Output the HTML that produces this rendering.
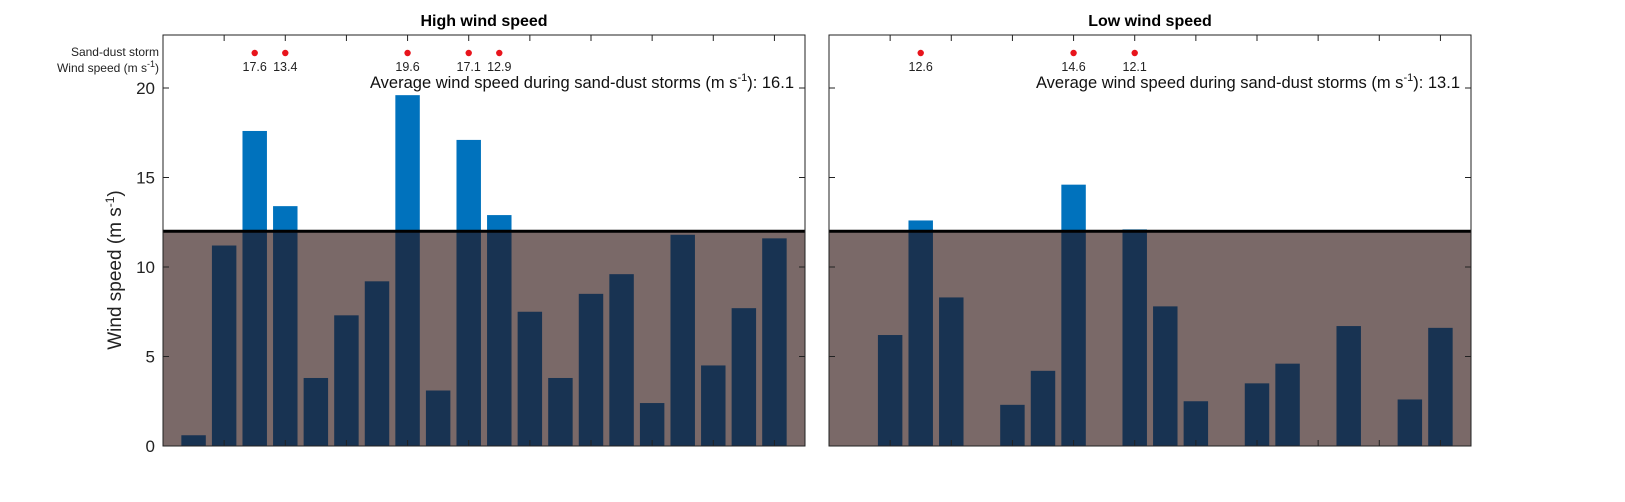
<!DOCTYPE html>
<html><head><meta charset="utf-8"><style>body{margin:0;background:#fff}svg{display:block;font-family:"Liberation Sans",Arial,sans-serif}</style></head>
<body>
<svg id="fig" width="1625" height="502" viewBox="0 0 1625 502">
<text x="121" y="270" transform="rotate(-90 121 270)" text-anchor="middle" font-size="19" fill="#222">Wind speed (m s<tspan dy="-7" font-size="12">-1</tspan><tspan dy="7">)</tspan></text>
<text x="159" y="56" text-anchor="end" font-size="12" fill="#222">Sand-dust storm</text>
<text x="159" y="72" text-anchor="end" font-size="12" fill="#222">Wind speed (m s<tspan dy="-5" font-size="9">-1</tspan><tspan dy="5">)</tspan></text>
</svg>
<script>
const highValues=[0.6,11.2,17.6,13.4,3.8,7.3,9.2,19.6,3.1,17.1,12.9,7.5,3.8,8.5,9.6,2.4,11.8,4.5,7.7,11.6];
const highStorms=[3,4,8,10,11];
const highAvg="16.1";
const lowIndex=[2,3,4,6,7,8,10,11,12,14,15,17,19,20];
const lowValues=[6.2,12.6,8.3,2.3,4.2,14.6,12.1,7.8,2.5,3.5,4.6,6.7,2.6,6.6];
const lowStorms=[3,8,10];
const lowAvg="13.1";
const yTicks=[0,5,10,15,20];
const threshold=12;

const NS="http://www.w3.org/2000/svg";
const svg=document.getElementById('fig');
function mk(tag,attrs,parent){const e=document.createElementNS(NS,tag);for(const k in attrs)e.setAttribute(k,attrs[k]);(parent||svg).appendChild(e);return e;}
const Y0=446,Y1=35,PX=17.9;
function y(v){return Y0-v*PX;}

function panel(left,title,idx,vals,storms,avg,showLabels,key){
  const right=left+642;
  const xs=v=>left+v*(642/21);
  const g=mk('g',{});
  
  
  const bg=mk('rect',{x:left,y:y(threshold),width:642,height:Y0-y(threshold),fill:'#7a6968'},g);
  
  
  const bw=0.8*642/21;
  idx.forEach((i,k)=>{
    const v=vals[k];
    if(v>threshold){
      const t=mk('rect',{x:xs(i)-bw/2,y:y(v),width:bw,height:y(threshold)-y(v),fill:'#0072BD'},g);
      
      
    }
    const lv=Math.min(v,threshold);
    const b=mk('rect',{x:xs(i)-bw/2,y:y(lv),width:bw,height:Y0-y(lv),fill:'#183352'},g);
    
    
  });
  const th=mk('line',{x1:left,x2:right,y1:y(threshold),y2:y(threshold),stroke:'#000','stroke-width':3},g);
  
  
  const ax=mk('rect',{x:left,y:Y1,width:642,height:Y0-Y1,fill:'none',stroke:'#222','stroke-width':1},g);
  
  
  yTicks.forEach(t=>{
    const l=mk('line',{x1:left,x2:left+6,y1:y(t),y2:y(t),stroke:'#222'},g);
    
    
    const r=mk('line',{x1:right,x2:right-6,y1:y(t),y2:y(t),stroke:'#222'},g);
    
    
    if(showLabels){
      const tx=mk('text',{x:left-8,y:y(t)+6,'text-anchor':'end','font-size':17,fill:'#222'},g);
      tx.textContent=t;
      
      
    }
  });
  for(let i=2;i<=20;i+=2){
    const l=mk('line',{x1:xs(i),x2:xs(i),y1:Y1,y2:Y1+6,stroke:'#222'},g);
    
    
    const l2=mk('line',{x1:xs(i),x2:xs(i),y1:Y0,y2:Y0-6,stroke:'#222'},g);
    
    
  }
  storms.forEach(i=>{
    const v=vals[idx.indexOf(i)];
    const d=mk('circle',{cx:xs(i),cy:53,r:3.2,fill:'#e8141c'},g);
    
    
    const t=mk('text',{x:xs(i),y:71,'text-anchor':'middle','font-size':12.5,fill:'#222'},g);
    t.textContent=v.toFixed(1);
    
    
  });
  const a=mk('text',{x:right-11,y:88,'text-anchor':'end','font-size':16.5,fill:'#111'},g);
  a.innerHTML='Average wind speed during sand-dust storms (m s<tspan dy="-7" font-size="11">-1</tspan><tspan dy="7">): '+avg+'</tspan>';
  
  
  const ti=mk('text',{x:left+321,y:26,'text-anchor':'middle','font-size':16,'font-weight':'bold',fill:'#000'},g);
  ti.textContent=title;
  
  
}
const highIndex=highValues.map((v,i)=>i+1);
panel(163,'High wind speed',highIndex,highValues,highStorms,highAvg,true,'high');
panel(829,'Low wind speed',lowIndex,lowValues,lowStorms,lowAvg,false,'low');
</script>
</body></html>
